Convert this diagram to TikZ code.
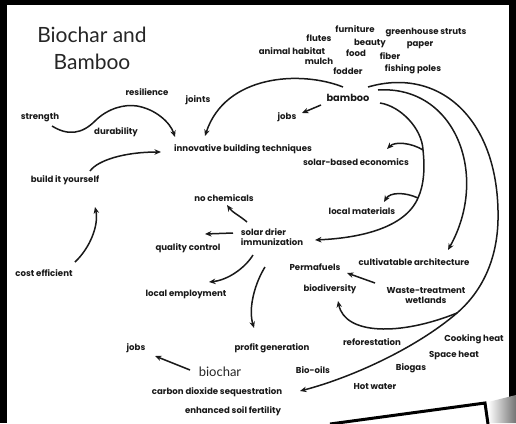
\documentclass[tikz,border=0pt]{standalone}
\usepackage{fontspec}
\newfontfamily\titlefont{Lato}
\newfontfamily\handfont{Poppins}
\usetikzlibrary{arrows.meta}
\tikzset{
    mytitle/.style = {align=center, inner sep=0pt, font=\titlefont\fontsize{21}{27}\selectfont, text=black!85},
    mybig/.style = {inner sep=0pt, font=\titlefont\fontsize{13}{15}\selectfont, text=black!85},
    mylabel/.style = {inner sep=0pt, font=\handfont\bfseries\fontsize{8.6}{10}\selectfont, text=black!90},
    mylabelb/.style = {inner sep=0pt, font=\handfont\bfseries\fontsize{9.8}{11}\selectfont, text=black!90},
    edgea/.style = {-{Stealth[length=6.5pt,width=5.5pt]}, line width=1.5pt, black!90},
    edgen/.style = {line width=1.5pt, black!90},
    paper/.style = {line width=3pt, black}
}
\begin{document}
\begin{tikzpicture}[x=1pt,y=1pt]
\useasboundingbox (0,0) rectangle (516,-423);
\fill[black] (0,0) rectangle (516,-423);
\fill[white] (7,-5) rectangle (509,-423);
%
\node[mytitle] at (92,-48) (title) {Biochar and\\Bamboo};
%
\node[mylabel] at (355,-29) (furniture) {furniture};
\node[mylabel] at (426,-33) (struts) {greenhouse struts};
\node[mylabel] at (319,-38) (flutes) {flutes};
\node[mylabel] at (370,-43) (beauty) {beauty};
\node[mylabel] at (420,-45) (paper) {paper};
\node[mylabel] at (292,-51) (habitat) {animal habitat};
\node[mylabel] at (356,-53) (food) {food};
\node[mylabel] at (390,-56) (fiber) {fiber};
\node[mylabel] at (319,-61) (mulch) {mulch};
\node[mylabel] at (348,-71) (fodder) {fodder};
\node[mylabel] at (413,-69) (poles) {fishing poles};
\node[mylabelb] at (348,-98) (bamboo) {bamboo};
\node[mylabel] at (287,-117) (jobsa) {jobs};
\node[mylabel] at (147,-92) (resilience) {resilience};
\node[mylabel] at (198,-100) (joints) {joints};
\node[mylabel] at (40,-117) (strength) {strength};
\node[mylabel] at (116,-132) (durability) {durability};
\node[mylabel] at (243,-149) (innov) {innovative building techniques};
\node[mylabel] at (356,-162) (solareco) {solar-based economics};
\node[mylabel] at (65,-180) (build) {build it yourself};
\node[mylabel] at (224,-198) (nochem) {no chemicals};
\node[mylabel] at (362,-211) (localmat) {local materials};
\node[mylabel, align=left] at (272,-237) (solar) {solar drier\\immunization};
\node[mylabel] at (188,-248) (quality) {quality control};
\node[mylabel] at (414,-262) (cultiv) {cultivatable architecture};
\node[mylabel] at (315,-267) (perma) {Permafuels};
\node[mylabel] at (44,-273) (cost) {cost efficient};
\node[mylabel] at (330,-289) (biodiv) {biodiversity};
\node[mylabel, align=center] at (426,-296) (waste) {Waste-treatment\\wetlands};
\node[mylabel] at (186,-294) (employ) {local employment};
\node[mylabel] at (372,-342) (reforest) {reforestation};
\node[mylabel] at (474,-339) (cooking) {Cooking heat};
\node[mylabel] at (272,-348) (profit) {profit generation};
\node[mylabel] at (136,-348) (jobsb) {jobs};
\node[mylabel] at (454,-355) (space) {Space heat};
\node[mylabel] at (411,-368) (biogas) {Biogas};
\node[mylabel] at (313,-370) (biooils) {Bio-oils};
\node[mybig] at (220,-372) (biochar) {biochar};
\node[mylabel] at (217,-392) (carbon) {carbon dioxide sequestration};
\node[mylabel] at (375,-387) (hotwater) {Hot water};
\node[mylabel] at (233,-411) (soil) {enhanced soil fertility};
%
\coordinate (wb) at (457,-313);
\coordinate (br1) at (423,-150);
\coordinate (br2) at (418,-198);
%
\draw[edgea] ([shift={(12,-9)}]strength.center) .. controls (68,-136) and (82,-134) .. (95,-121)
    .. controls (108,-108) and (125,-104) .. (137,-106) .. controls (155,-109) and (170,-122) .. ([shift={(-68,12)}]innov.center);
\draw[edgea] ([shift={(-5,11)}]bamboo.center) .. controls (300,-70) and (225,-75) .. ([shift={(-38,13)}]innov.center);
\draw[edgea] ([shift={(-27,-7)}]bamboo.center) -- ([shift={(15,4)}]jobsa.center);
\draw[edgea] ([shift={(20,11)}]bamboo.center) .. controls (440,-66) and (500,-120) .. (498,-220)
    .. controls (497,-265) and (478,-295) .. (wb) .. controls (415,-349) and (350,-378) .. ([shift={(83,1)}]carbon.center);
\draw[edgea] ([shift={(30,8)}]bamboo.center) .. controls (455,-85) and (490,-175) .. ([shift={(34,12)}]cultiv.center);
\draw[edgea] ([shift={(32,-5)}]bamboo.center) .. controls (400,-106) and (422,-128) .. (br1)
    .. controls (425,-168) and (424,-185) .. (br2) .. controls (405,-228) and (360,-238) .. ([shift={(43,-3)}]solar.center);
\draw[edgea] (br1) .. controls (412,-143) and (395,-141) .. ([shift={(31,13)}]solareco.center);
\draw[edgea] (br2) .. controls (405,-192) and (390,-192) .. ([shift={(22,9)}]localmat.center);
\draw[edgea] (wb) .. controls (400,-336) and (345,-335) .. ([shift={(8,-12)}]biodiv.center);
%
\draw[edgea] ([shift={(-25,15)}]solar.center) .. controls (240,-216) and (232,-212) .. ([shift={(3,-7)}]nochem.center);
\draw[edgea] ([shift={(-39,4)}]solar.center) -- ([shift={(17,14)}]quality.center);
\draw[edgea] ([shift={(-19,-18)}]solar.center) .. controls (245,-268) and (228,-280) .. ([shift={(23,12)}]employ.center);
\draw[edgea] ([shift={(-7,-30)}]solar.center) .. controls (255,-283) and (248,-308) .. ([shift={(-18,20)}]profit.center);
\draw[edgea] ([shift={(25,9)}]build.center) .. controls (98,-160) and (125,-152) .. ([shift={(-82,-3)}]innov.center);
\draw[edgea] ([shift={(31,11)}]cost.center) .. controls (90,-248) and (99,-225) .. ([shift={(30,-27)}]build.center);
\draw[edgea] ([shift={(-51,13)}]waste.center) -- ([shift={(32,-6)}]perma.center);
\draw[edgea] ([shift={(-30,2)}]biochar.center) -- ([shift={(19,-8)}]jobsb.center);
%
\shade[left color=white, right color=black!55] (488,-402) -- (516,-395) -- (516,-423) -- (489,-423) -- cycle;
\draw[paper] (330,-424) -- (485,-403) -- (488,-424);
\end{tikzpicture}
\end{document}
